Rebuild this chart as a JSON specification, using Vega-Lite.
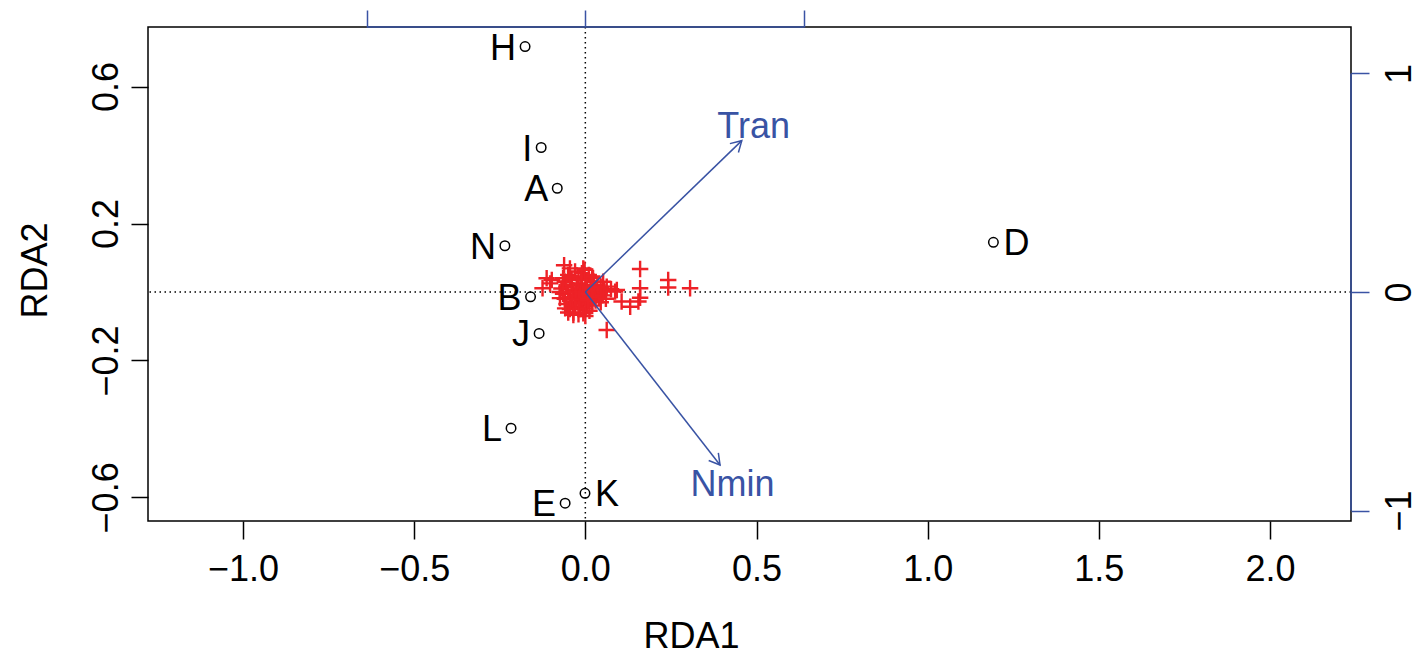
{
  "$schema": "https://vega.github.io/schema/vega-lite/v6.json",
  "width": 1203,
  "height": 494,
  "autosize": "none",
  "padding": {"left": 148, "top": 27, "right": 70, "bottom": 134},
  "background": "white",
  "data": {"values": [{"origin": 0}]},
  "config": {
    "font": "Liberation Sans",
    "view": {"stroke": "black", "strokeWidth": 1.5},
    "axis": {
      "grid": false,
      "domain": false,
      "labelFont": "Liberation Sans",
      "labelFontSize": 36,
      "labelColor": "black",
      "titleFont": "Liberation Sans",
      "titleFontSize": 36,
      "titleFontWeight": "normal",
      "titleColor": "black",
      "tickColor": "black",
      "tickWidth": 1.5,
      "tickSize": 18
    }
  },
  "datasets": {
    "sites": [
      {"site": "H", "x": -0.176, "y": 0.717},
      {"site": "I", "x": -0.129, "y": 0.422},
      {"site": "A", "x": -0.082, "y": 0.303},
      {"site": "N", "x": -0.235, "y": 0.135},
      {"site": "B", "x": -0.160, "y": -0.014},
      {"site": "J", "x": -0.135, "y": -0.121},
      {"site": "L", "x": -0.217, "y": -0.398},
      {"site": "E", "x": -0.059, "y": -0.617},
      {"site": "K", "x": -0.001, "y": -0.588},
      {"site": "D", "x": 1.192, "y": 0.145}
    ],
    "species": [
      {"x": 0.160, "y": 0.067}, {"x": 0.160, "y": 0.011}, {"x": 0.242, "y": 0.035}, {"x": 0.242, "y": 0.013},
      {"x": 0.306, "y": 0.011}, {"x": 0.160, "y": -0.017}, {"x": 0.155, "y": -0.028}, {"x": 0.106, "y": -0.028},
      {"x": 0.131, "y": -0.043}, {"x": 0.087, "y": 0.001}, {"x": 0.0625, "y": 0.0155}, {"x": 0.052, "y": 0.030},
      {"x": 0.0625, "y": -0.111}, {"x": -0.062, "y": 0.078}, {"x": -0.113, "y": 0.040}, {"x": -0.098, "y": 0.035},
      {"x": -0.125, "y": 0.011}, {"x": -0.103, "y": 0.025}, {"x": -0.045, "y": 0.069}, {"x": -0.006, "y": 0.069},
      {"x": 0.0225, "y": 0.041}, {"x": -0.035, "y": -0.067}, {"x": -0.006, "y": -0.062}, {"x": -0.059, "y": -0.048},
      {"x": -0.074, "y": -0.018},
      {"x": -0.05, "y": 0.05}, {"x": -0.03, "y": 0.06}, {"x": -0.01, "y": 0.055}, {"x": 0.01, "y": 0.05},
      {"x": 0.025, "y": 0.03}, {"x": -0.06, "y": 0.03}, {"x": -0.04, "y": 0.035}, {"x": -0.02, "y": 0.04},
      {"x": 0.0, "y": 0.035}, {"x": 0.015, "y": 0.02}, {"x": -0.07, "y": 0.01}, {"x": -0.055, "y": 0.015},
      {"x": -0.04, "y": 0.02}, {"x": -0.025, "y": 0.025}, {"x": -0.01, "y": 0.02}, {"x": 0.005, "y": 0.015},
      {"x": 0.03, "y": 0.01}, {"x": 0.04, "y": 0.0}, {"x": -0.065, "y": -0.005}, {"x": -0.05, "y": 0.0},
      {"x": -0.035, "y": 0.005}, {"x": -0.02, "y": 0.008}, {"x": -0.005, "y": 0.003}, {"x": 0.01, "y": 0.0},
      {"x": 0.025, "y": -0.005}, {"x": -0.06, "y": -0.02}, {"x": -0.045, "y": -0.015}, {"x": -0.03, "y": -0.01},
      {"x": -0.015, "y": -0.012}, {"x": 0.0, "y": -0.015}, {"x": 0.015, "y": -0.02}, {"x": 0.03, "y": -0.025},
      {"x": -0.055, "y": -0.035}, {"x": -0.04, "y": -0.03}, {"x": -0.025, "y": -0.028}, {"x": -0.01, "y": -0.032},
      {"x": 0.005, "y": -0.035}, {"x": 0.02, "y": -0.04}, {"x": -0.045, "y": -0.05}, {"x": -0.03, "y": -0.045},
      {"x": -0.015, "y": -0.05}, {"x": 0.0, "y": -0.048}, {"x": 0.012, "y": -0.055}, {"x": -0.035, "y": -0.06},
      {"x": -0.02, "y": -0.065}, {"x": 0.0, "y": -0.07}, {"x": -0.012, "y": 0.045}, {"x": -0.045, "y": 0.045},
      {"x": 0.02, "y": 0.045}, {"x": -0.028, "y": 0.0}, {"x": -0.008, "y": -0.005}, {"x": -0.018, "y": -0.02},
      {"x": -0.038, "y": -0.022}, {"x": 0.008, "y": -0.025}, {"x": 0.02, "y": 0.005}, {"x": -0.05, "y": -0.06},
      {"x": 0.04, "y": -0.015}, {"x": 0.035, "y": 0.02}, {"x": -0.075, "y": 0.0}, {"x": -0.065, "y": 0.04},
      {"x": 0.045, "y": -0.03}, {"x": -0.002, "y": 0.065},
      {"x": 0.05, "y": -0.01}, {"x": 0.055, "y": 0.005}, {"x": 0.045, "y": 0.015}, {"x": 0.06, "y": -0.02},
      {"x": 0.075, "y": 0.008}, {"x": 0.092, "y": 0.006}
    ],
    "arrows": [
      {"var": "Tran", "x0": 0, "y0": 0, "x": 0.716, "y": 0.6925, "lx": 0.77, "ly": 0.765},
      {"var": "Nmin", "x0": 0, "y0": 0, "x": 0.6165, "y": -0.792, "lx": 0.674, "ly": -0.872}
    ]
  },
  "layer": [
    {
      "layer": [
        {
          "mark": {"type": "rule", "color": "black", "strokeWidth": 1.5, "strokeDash": [1.5, 3.5]},
          "encoding": {
            "x": {"field": "origin", "type": "quantitative", "scale": {"domain": [-1.2775, 2.2366], "nice": false, "zero": false},
                  "axis": {"title": "RDA1", "orient": "bottom", "values": [-1, -0.5, 0, 0.5, 1, 1.5, 2], "format": ".1f", "labelPadding": 13, "titleX": 543, "titleY": 98}}
          }
        },
        {
          "mark": {"type": "rule", "color": "black", "strokeWidth": 1.5, "strokeDash": [1.5, 3.5]},
          "encoding": {
            "y": {"field": "origin", "type": "quantitative", "scale": {"domain": [-0.669, 0.774], "nice": false, "zero": false},
                  "axis": {"title": "RDA2", "orient": "left", "values": [-0.6, -0.2, 0.2, 0.6], "format": ".1f", "labelAngle": -90, "labelAlign": "center", "labelBaseline": "bottom", "labelPadding": 6, "tickSize": 17, "titleX": -94, "titleY": 243}}
          }
        },
        {
          "data": {"name": "species"},
          "mark": {"type": "point", "shape": "M-1,0L1,0M0,-1L0,1", "filled": false, "color": "#EE2227", "strokeWidth": 2.4, "size": 270, "opacity": 1},
          "encoding": {
            "x": {"field": "x", "type": "quantitative", "title": "RDA1"},
            "y": {"field": "y", "type": "quantitative", "title": "RDA2"}
          }
        },
        {
          "data": {"name": "sites"},
          "mark": {"type": "point", "shape": "circle", "filled": false, "color": "black", "strokeWidth": 1.5, "size": 90, "opacity": 1},
          "encoding": {
            "x": {"field": "x", "type": "quantitative", "title": "RDA1"},
            "y": {"field": "y", "type": "quantitative", "title": "RDA2"}
          }
        },
        {
          "data": {"name": "sites"},
          "transform": [{"filter": {"not": {"field": "site", "oneOf": ["D", "K"]}}}],
          "mark": {"type": "text", "align": "right", "baseline": "middle", "dx": -9, "dy": 2, "fontSize": 36, "color": "black"},
          "encoding": {
            "x": {"field": "x", "type": "quantitative", "title": "RDA1"},
            "y": {"field": "y", "type": "quantitative", "title": "RDA2"},
            "text": {"field": "site"}
          }
        },
        {
          "data": {"name": "sites"},
          "transform": [{"filter": {"field": "site", "oneOf": ["D", "K"]}}],
          "mark": {"type": "text", "align": "left", "baseline": "middle", "dx": 10, "dy": 2, "fontSize": 36, "color": "black"},
          "encoding": {
            "x": {"field": "x", "type": "quantitative", "title": "RDA1"},
            "y": {"field": "y", "type": "quantitative", "title": "RDA2"},
            "text": {"field": "site"}
          }
        }
      ]
    },
    {
      "layer": [
        {
          "data": {"name": "arrows"},
          "mark": {"type": "rule", "color": "#3953A4", "strokeWidth": 1.5},
          "encoding": {
            "x": {"field": "x0", "type": "quantitative", "scale": {"domain": [-2.0014, 3.504], "nice": false, "zero": false},
                  "axis": {"title": null, "orient": "top", "values": [-1, 0, 1], "labels": false, "tickColor": "#3953A4", "tickSize": 17}},
            "y": {"field": "y0", "type": "quantitative", "scale": {"domain": [-1.048, 1.2126], "nice": false, "zero": false},
                  "axis": {"title": null, "orient": "right", "values": [-1, 0, 1], "format": "d", "labelAngle": -90, "labelAlign": "center", "labelBaseline": "top", "labelPadding": 13, "tickColor": "#3953A4"}},
            "x2": {"field": "x"},
            "y2": {"field": "y"}
          }
        },
        {
          "data": {"name": "arrows"},
          "transform": [{"filter": {"field": "var", "equal": "Tran"}}],
          "mark": {"type": "point", "shape": "M-0.5,0.866L0,0L0.5,0.866", "filled": false, "color": "#3953A4", "strokeWidth": 1.5, "size": 600, "angle": 46, "opacity": 1},
          "encoding": {
            "x": {"field": "x", "type": "quantitative", "title": null},
            "y": {"field": "y", "type": "quantitative", "title": null}
          }
        },
        {
          "data": {"name": "arrows"},
          "transform": [{"filter": {"field": "var", "equal": "Nmin"}}],
          "mark": {"type": "point", "shape": "M-0.5,0.866L0,0L0.5,0.866", "filled": false, "color": "#3953A4", "strokeWidth": 1.5, "size": 600, "angle": 142, "opacity": 1},
          "encoding": {
            "x": {"field": "x", "type": "quantitative", "title": null},
            "y": {"field": "y", "type": "quantitative", "title": null}
          }
        },
        {
          "data": {"name": "arrows"},
          "mark": {"type": "text", "align": "center", "baseline": "middle", "dy": 2, "fontSize": 36, "color": "#3953A4"},
          "encoding": {
            "x": {"field": "lx", "type": "quantitative", "title": null},
            "y": {"field": "ly", "type": "quantitative", "title": null},
            "text": {"field": "var"}
          }
        },
        {
          "mark": {"type": "rule", "color": "#3953A4", "strokeWidth": 1.5},
          "encoding": {
            "x": {"datum": -1, "type": "quantitative"},
            "x2": {"datum": 1},
            "y": {"datum": 1.2126, "type": "quantitative"}
          }
        },
        {
          "mark": {"type": "rule", "color": "#3953A4", "strokeWidth": 1.5},
          "encoding": {
            "x": {"datum": 3.504, "type": "quantitative"},
            "y": {"datum": -1, "type": "quantitative"},
            "y2": {"datum": 1}
          }
        }
      ]
    }
  ],
  "resolve": {"scale": {"x": "independent", "y": "independent"}, "axis": {"x": "independent", "y": "independent"}}
}
